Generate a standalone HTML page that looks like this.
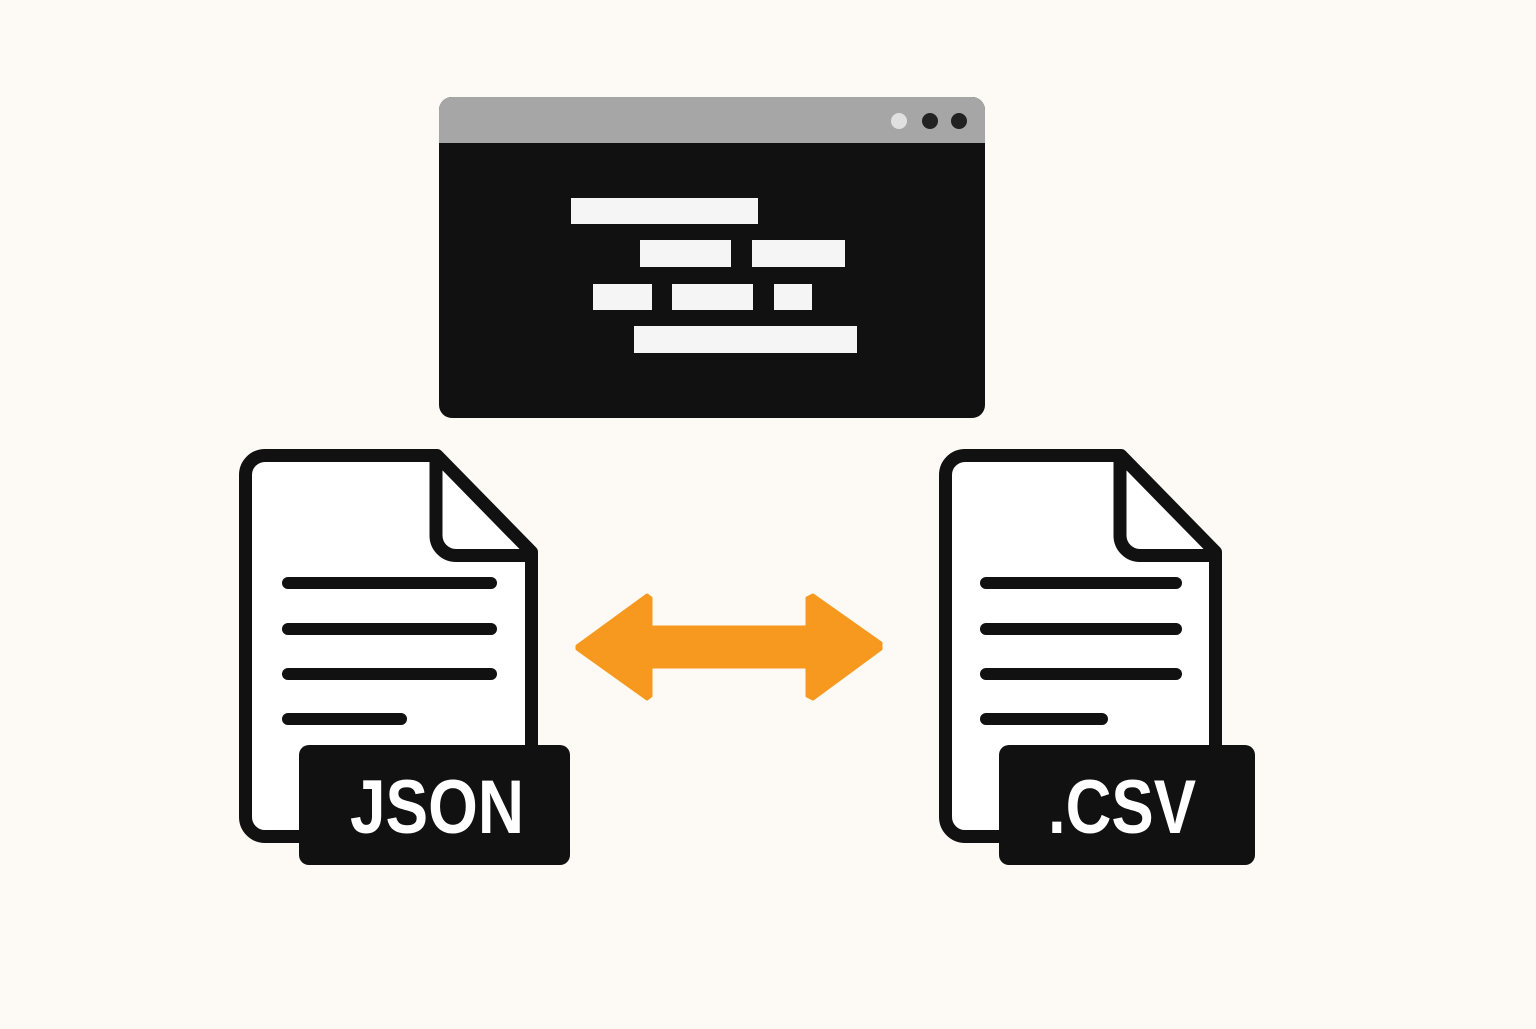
<!DOCTYPE html>
<html><head><style>html,body{margin:0;padding:0;background:#fdfaf5;}</style></head>
<body>
<svg width="1536" height="1024" viewBox="0 0 1536 1024" xmlns="http://www.w3.org/2000/svg">
<rect width="1536" height="1024" fill="#fdfaf5"/>
<!-- window -->
<rect x="439" y="97" width="546" height="321" rx="13" fill="#111"/>
<path d="M452 97 H972 A13 13 0 0 1 985 110 V143 H439 V110 A13 13 0 0 1 452 97 Z" fill="#a6a6a6"/>
<circle cx="899" cy="121" r="8" fill="#e0e0e0"/>
<circle cx="930" cy="121" r="8" fill="#222"/>
<circle cx="959" cy="121" r="8" fill="#222"/>
<g fill="#f5f5f5">
<rect x="571" y="198" width="187" height="26"/>
<rect x="640" y="240" width="91" height="27"/>
<rect x="752" y="240" width="93" height="27"/>
<rect x="593" y="284" width="59" height="26"/>
<rect x="672" y="284" width="81" height="26"/>
<rect x="774" y="284" width="38" height="26"/>
<rect x="634" y="326" width="223" height="27"/>
</g>
<!-- JSON doc -->
<g>
<path d="M265 455.5 H437 L531.5 552 V836.5 H265 A19.5 19.5 0 0 1 245.5 817 V475 A19.5 19.5 0 0 1 265 455.5 Z" fill="#fff" stroke="#111" stroke-width="13" stroke-linejoin="round"/>
<path d="M436 458 V535 A20 20 0 0 0 456 555.5 H531" fill="none" stroke="#111" stroke-width="13"/>
<g stroke="#111" stroke-width="12" stroke-linecap="round">
<line x1="288" y1="583" x2="491" y2="583"/>
<line x1="288" y1="629" x2="491" y2="629"/>
<line x1="288" y1="674" x2="491" y2="674"/>
<line x1="288" y1="719" x2="401" y2="719"/>
</g>
<rect x="299" y="745" width="271" height="120" rx="10" fill="#111"/>
<text x="350" y="833" font-family="Liberation Sans, sans-serif" font-weight="bold" font-size="76" fill="#fff" textLength="174" lengthAdjust="spacingAndGlyphs">JSON</text>
</g>
<!-- CSV doc -->
<g>
<path d="M965 455.5 H1121 L1215.5 552 V836.5 H965 A19.5 19.5 0 0 1 945.5 817 V475 A19.5 19.5 0 0 1 965 455.5 Z" fill="#fff" stroke="#111" stroke-width="13" stroke-linejoin="round"/>
<path d="M1120 458 V535 A20 20 0 0 0 1140 555.5 H1215" fill="none" stroke="#111" stroke-width="13"/>
<g stroke="#111" stroke-width="12" stroke-linecap="round">
<line x1="986" y1="583" x2="1176" y2="583"/>
<line x1="986" y1="629" x2="1176" y2="629"/>
<line x1="986" y1="674" x2="1176" y2="674"/>
<line x1="986" y1="719" x2="1102" y2="719"/>
</g>
<rect x="999" y="745" width="256" height="120" rx="10" fill="#111"/>
<text x="1048" y="833" font-family="Liberation Sans, sans-serif" font-weight="bold" font-size="76" fill="#fff" textLength="148" lengthAdjust="spacingAndGlyphs">.CSV</text>
</g>
<!-- arrow -->
<polygon fill="#f7981f" stroke="#f7981f" stroke-width="3" stroke-linejoin="round" points="577,646 647,595 651,598 651,627 807,627 807,598 813,595 881,643 881,649 813,699 807,696 807,667 651,667 651,696 647,699 577,649"/>
</svg>
</body></html>
